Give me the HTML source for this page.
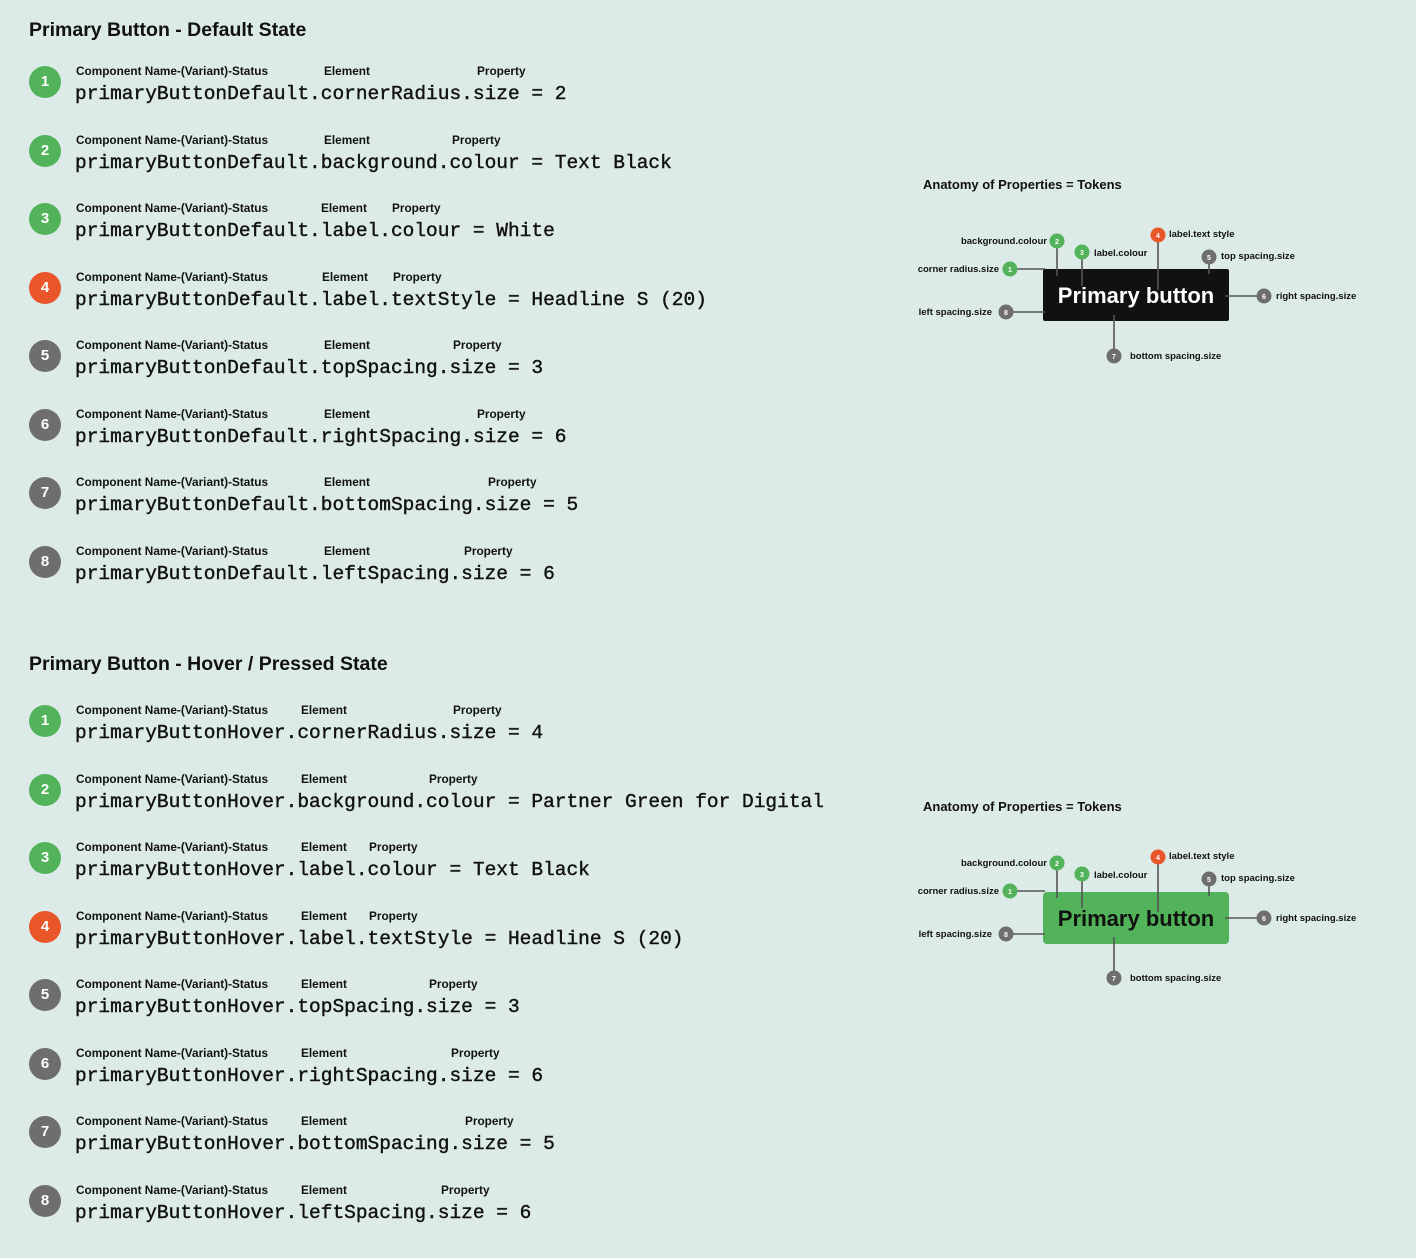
<!DOCTYPE html>
<html><head><meta charset="utf-8"><style>
body{margin:0;width:1416px;height:1258px;background:#dcebe7;position:relative;overflow:hidden;font-family:"Liberation Sans",sans-serif;color:#111}
.h{position:absolute;left:29px;font-weight:bold;font-size:19.5px;line-height:20px}
.c{position:absolute;left:29px;width:32px;height:32px;border-radius:50%;color:#fff;font-weight:bold;font-size:15px;line-height:32px;text-align:center}
.g{background:#52b35a}.o{background:#e8562a}.k{background:#6e6e6e}
.l{position:absolute;font-weight:bold;font-size:11.8px;line-height:12px;white-space:nowrap;margin-top:1px}
.m{position:absolute;left:75px;font-family:"Liberation Mono",monospace;font-size:19.5px;line-height:20px;white-space:nowrap;-webkit-text-stroke:0.4px #111;margin-top:1px}
</style></head><body>
<div class="h" style="top:20px">Primary Button - Default State</div>
<div class="h" style="top:654px">Primary Button - Hover / Pressed State</div>

<div class="c g" style="top:66px">1</div><div class="l" style="left:76px;top:64px">Component Name-(Variant)-Status</div><div class="l" style="left:324px;top:64px">Element</div><div class="l" style="left:477px;top:64px">Property</div><div class="m" style="top:83px">primaryButtonDefault.cornerRadius.size = 2</div>
<div class="c g" style="top:135px">2</div><div class="l" style="left:76px;top:133px">Component Name-(Variant)-Status</div><div class="l" style="left:324px;top:133px">Element</div><div class="l" style="left:452px;top:133px">Property</div><div class="m" style="top:152px">primaryButtonDefault.background.colour = Text Black</div>
<div class="c g" style="top:203px">3</div><div class="l" style="left:76px;top:201px">Component Name-(Variant)-Status</div><div class="l" style="left:321px;top:201px">Element</div><div class="l" style="left:392px;top:201px">Property</div><div class="m" style="top:220px">primaryButtonDefault.label.colour = White</div>
<div class="c o" style="top:272px">4</div><div class="l" style="left:76px;top:270px">Component Name-(Variant)-Status</div><div class="l" style="left:322px;top:270px">Element</div><div class="l" style="left:393px;top:270px">Property</div><div class="m" style="top:289px">primaryButtonDefault.label.textStyle = Headline S (20)</div>
<div class="c k" style="top:340px">5</div><div class="l" style="left:76px;top:338px">Component Name-(Variant)-Status</div><div class="l" style="left:324px;top:338px">Element</div><div class="l" style="left:453px;top:338px">Property</div><div class="m" style="top:357px">primaryButtonDefault.topSpacing.size = 3</div>
<div class="c k" style="top:409px">6</div><div class="l" style="left:76px;top:407px">Component Name-(Variant)-Status</div><div class="l" style="left:324px;top:407px">Element</div><div class="l" style="left:477px;top:407px">Property</div><div class="m" style="top:426px">primaryButtonDefault.rightSpacing.size = 6</div>
<div class="c k" style="top:477px">7</div><div class="l" style="left:76px;top:475px">Component Name-(Variant)-Status</div><div class="l" style="left:324px;top:475px">Element</div><div class="l" style="left:488px;top:475px">Property</div><div class="m" style="top:494px">primaryButtonDefault.bottomSpacing.size = 5</div>
<div class="c k" style="top:546px">8</div><div class="l" style="left:76px;top:544px">Component Name-(Variant)-Status</div><div class="l" style="left:324px;top:544px">Element</div><div class="l" style="left:464px;top:544px">Property</div><div class="m" style="top:563px">primaryButtonDefault.leftSpacing.size = 6</div>

<div class="c g" style="top:705px">1</div><div class="l" style="left:76px;top:703px">Component Name-(Variant)-Status</div><div class="l" style="left:301px;top:703px">Element</div><div class="l" style="left:453px;top:703px">Property</div><div class="m" style="top:722px">primaryButtonHover.cornerRadius.size = 4</div>
<div class="c g" style="top:774px">2</div><div class="l" style="left:76px;top:772px">Component Name-(Variant)-Status</div><div class="l" style="left:301px;top:772px">Element</div><div class="l" style="left:429px;top:772px">Property</div><div class="m" style="top:791px">primaryButtonHover.background.colour = Partner Green for Digital</div>
<div class="c g" style="top:842px">3</div><div class="l" style="left:76px;top:840px">Component Name-(Variant)-Status</div><div class="l" style="left:301px;top:840px">Element</div><div class="l" style="left:369px;top:840px">Property</div><div class="m" style="top:859px">primaryButtonHover.label.colour = Text Black</div>
<div class="c o" style="top:911px">4</div><div class="l" style="left:76px;top:909px">Component Name-(Variant)-Status</div><div class="l" style="left:301px;top:909px">Element</div><div class="l" style="left:369px;top:909px">Property</div><div class="m" style="top:928px">primaryButtonHover.label.textStyle = Headline S (20)</div>
<div class="c k" style="top:979px">5</div><div class="l" style="left:76px;top:977px">Component Name-(Variant)-Status</div><div class="l" style="left:301px;top:977px">Element</div><div class="l" style="left:429px;top:977px">Property</div><div class="m" style="top:996px">primaryButtonHover.topSpacing.size = 3</div>
<div class="c k" style="top:1048px">6</div><div class="l" style="left:76px;top:1046px">Component Name-(Variant)-Status</div><div class="l" style="left:301px;top:1046px">Element</div><div class="l" style="left:451px;top:1046px">Property</div><div class="m" style="top:1065px">primaryButtonHover.rightSpacing.size = 6</div>
<div class="c k" style="top:1116px">7</div><div class="l" style="left:76px;top:1114px">Component Name-(Variant)-Status</div><div class="l" style="left:301px;top:1114px">Element</div><div class="l" style="left:465px;top:1114px">Property</div><div class="m" style="top:1133px">primaryButtonHover.bottomSpacing.size = 5</div>
<div class="c k" style="top:1185px">8</div><div class="l" style="left:76px;top:1183px">Component Name-(Variant)-Status</div><div class="l" style="left:301px;top:1183px">Element</div><div class="l" style="left:441px;top:1183px">Property</div><div class="m" style="top:1202px">primaryButtonHover.leftSpacing.size = 6</div>

<svg width="1416" height="1258" style="position:absolute;left:0;top:0" font-family="Liberation Sans, sans-serif" font-weight="bold">
<defs>
<g id="conn" stroke="#555" stroke-width="1.6" fill="none">
<line x1="1017" y1="269" x2="1045" y2="269"/>
<line x1="1057" y1="248" x2="1057" y2="276"/>
<line x1="1082" y1="259" x2="1082" y2="286"/>
<line x1="1158" y1="242" x2="1158" y2="290"/>
<line x1="1209" y1="264" x2="1209" y2="274"/>
<line x1="1225" y1="296" x2="1257" y2="296"/>
<line x1="1013" y1="312" x2="1045" y2="312"/>
<line x1="1114" y1="315" x2="1114" y2="349"/>
</g>
<g id="dots" font-size="7" fill="#fff" text-anchor="middle">
<circle cx="1010" cy="269" r="7.5" fill="#52b35a"/><text x="1010" y="272">1</text>
<circle cx="1057" cy="241" r="7.5" fill="#52b35a"/><text x="1057" y="244">2</text>
<circle cx="1082" cy="252" r="7.5" fill="#52b35a"/><text x="1082" y="255">3</text>
<circle cx="1158" cy="235" r="7.5" fill="#e8562a"/><text x="1158" y="238">4</text>
<circle cx="1209" cy="257" r="7.5" fill="#6e6e6e"/><text x="1209" y="260">5</text>
<circle cx="1264" cy="296" r="7.5" fill="#6e6e6e"/><text x="1264" y="299">6</text>
<circle cx="1114" cy="356" r="7.5" fill="#6e6e6e"/><text x="1114" y="359">7</text>
<circle cx="1006" cy="312" r="7.5" fill="#6e6e6e"/><text x="1006" y="315">8</text>
</g>
<g id="labs" font-size="9.5" fill="#111">
<text x="999" y="272" text-anchor="end">corner radius.size</text>
<text x="1047" y="244" text-anchor="end">background.colour</text>
<text x="1094" y="256">label.colour</text>
<text x="1169" y="237">label.text style</text>
<text x="1221" y="259">top spacing.size</text>
<text x="1276" y="299">right spacing.size</text>
<text x="992" y="315" text-anchor="end">left spacing.size</text>
<text x="1130" y="359">bottom spacing.size</text>
</g>
</defs>
<text x="923" y="189" font-size="13" fill="#111">Anatomy of Properties = Tokens</text>
<rect x="1043" y="269" width="186" height="52" rx="2" fill="#111"/>
<use href="#conn"/>
<text x="1136" y="303" font-size="22" fill="#fff" text-anchor="middle">Primary button</text>
<use href="#dots"/><use href="#labs"/>

<g transform="translate(0,622)">
<text x="923" y="189" font-size="13" fill="#111">Anatomy of Properties = Tokens</text>
<rect x="1043" y="270" width="186" height="52" rx="4" fill="#52b35a"/>
<use href="#conn"/>
<text x="1136" y="304" font-size="22" fill="#111" text-anchor="middle">Primary button</text>
<use href="#dots"/><use href="#labs"/>
</g>
</svg>
</body></html>
